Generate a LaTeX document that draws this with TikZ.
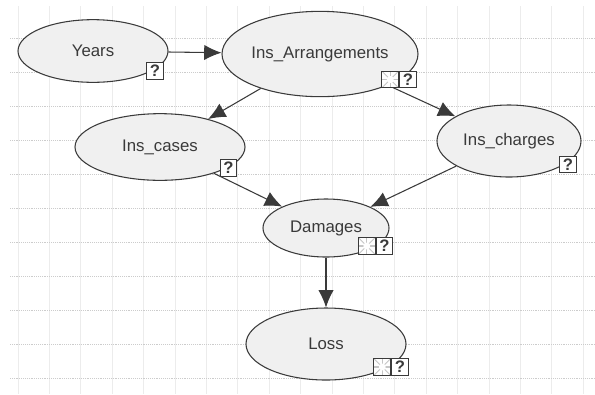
\documentclass[tikz,border=0pt]{standalone}
\usepackage{fontspec}
\setmainfont{Liberation Sans}
\usetikzlibrary{shapes, arrows.meta, positioning}
\definecolor{inkgray}{HTML}{3A3A3A}
\definecolor{nodegray}{HTML}{F0F0F0}
\tikzset{
  netnode/.style={ellipse, draw=inkgray, line width=0.8pt, fill=nodegray, inner sep=0pt, text=inkgray, font=\fontsize{12.6}{14}\selectfont},
  netedge/.style={draw=inkgray, line width=0.8pt, -{Latex[length=13pt,width=11.5pt]}},
  qbadge/.style={rectangle, draw=inkgray, line width=0.8pt, fill=white, minimum size=12.5pt, inner sep=0pt, text=inkgray, font=\bfseries\fontsize{12.5}{12}\selectfont},
  gbadge/.style={rectangle, draw=inkgray, line width=0.8pt, fill=white, minimum size=12.5pt, inner sep=0pt,
    path picture={
      \draw[gray!45, line width=1pt] (path picture bounding box.north) -- (path picture bounding box.south);
      \draw[gray!45, line width=1pt] (path picture bounding box.west) -- (path picture bounding box.east);
      \draw[gray!45, line width=0.6pt] (path picture bounding box.north west) -- (path picture bounding box.south east);
      \draw[gray!45, line width=0.6pt] (path picture bounding box.north east) -- (path picture bounding box.south west);
      \fill[white] (path picture bounding box.center) circle (2.6pt);
    }},
  gridh/.style={gray!40, line width=0.4pt, densely dotted},
  gridv/.style={gray!15, line width=0.6pt}
}
\begin{document}
\begin{tikzpicture}[x=0.75pt, y=-0.75pt]
  \useasboundingbox (0,0) rectangle (595,394);

  % Grid
  \foreach \gx in {18,49.4,...,590}
    \draw[gridv] (\gx,6) -- (\gx,394);
  \foreach \gy in {38,72,...,380}
    \draw[gridh] (10,\gy) -- (595,\gy);

  % Nodes
  \node[netnode, minimum width=112.5pt, minimum height=47pt] (years) at (93,51) {Years};
  \node[netnode, minimum width=147pt, minimum height=64pt] (arrange) at (320,54) {Ins\_Arrangements};
  \node[netnode, minimum width=127.5pt, minimum height=50pt] (cases) at (160,147) {Ins\_cases};
  \node[netnode, minimum width=108pt, minimum height=54pt] (charges) at (509,141) {Ins\_charges};
  \node[netnode, minimum width=94.5pt, minimum height=43.5pt] (damages) at (326,228) {Damages};
  \node[netnode, minimum width=120pt, minimum height=54pt] (loss) at (326,344) {Loss};

  % Edges
  \draw[netedge] (years) -- (arrange);
  \draw[netedge] (arrange) -- (cases);
  \draw[netedge] (arrange) -- (charges);
  \draw[netedge] (cases) -- (damages);
  \draw[netedge] (charges) -- (damages);
  \draw[netedge] (damages) -- (loss);

  % Badges
  \node[qbadge] (yearsq) at (155,71) {?};
  \node[qbadge] (casesq) at (228.5,168) {?};
  \node[qbadge] (chargesq) at (568,164.5) {?};
  \node[qbadge] (arrangeq) at (408,79.5) {?};
  \node[gbadge, left=0pt of arrangeq] (arrangeg) {};
  \node[qbadge] (damagesq) at (384.5,246) {?};
  \node[gbadge, left=0pt of damagesq] (damagesg) {};
  \node[qbadge] (lossq) at (400,367) {?};
  \node[gbadge, left=0pt of lossq] (lossg) {};
\end{tikzpicture}
\end{document}
